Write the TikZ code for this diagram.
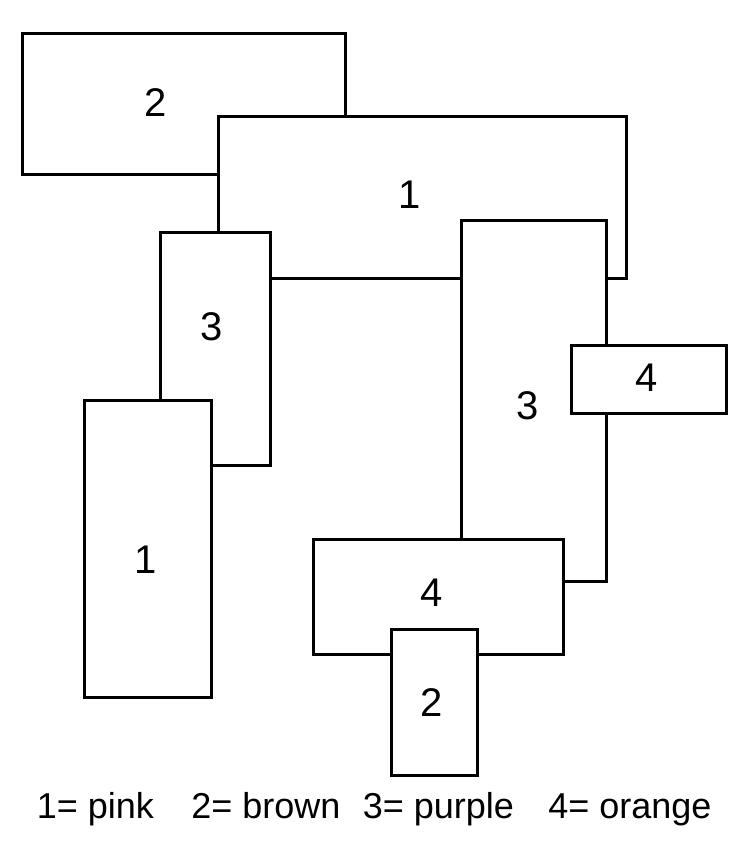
\documentclass[tikz,border=0pt]{standalone}
\usepackage{fontspec}
\setmainfont{Liberation Sans}
\usetikzlibrary{positioning}

\begin{document}
\begin{tikzpicture}[x=1pt,y=-1pt,
  box/.style={draw,fill=white,line width=3pt,inner sep=0pt},
  num/.style={font=\fontsize{40}{42}\selectfont},
  key/.style={font=\fontsize{36}{40}\selectfont,anchor=base}]
\useasboundingbox (0,0) rectangle (733,847);
% boxes, from back to front
\node[box,minimum width=323pt,minimum height=141pt] (twoA) at (184,103.5) {};
\node[box,minimum width=408pt,minimum height=162pt] (oneA) at (422,197) {};
\node[box,minimum width=110pt,minimum height=233pt] (threeA) at (215,348.5) {};
\node[box,minimum width=127pt,minimum height=297pt] (oneB) at (148,549) {};
\node[box,minimum width=145pt,minimum height=361pt] (threeB) at (534,401) {};
\node[box,minimum width=155pt,minimum height=68pt] (fourA) at (648.5,379) {};
\node[box,minimum width=250pt,minimum height=115pt] (fourB) at (438.5,596.5) {};
\node[box,minimum width=86pt,minimum height=146pt] (twoB) at (434.5,702) {};
% numbers
\node[num] at (156,103) {2};
\node[num] at (410,195) {1};
\node[num] at (212,327) {3};
\node[num] at (146,560) {1};
\node[num] at (528,406) {3};
\node[num] at (647,378) {4};
\node[num] at (432,593) {4};
\node[num] at (432,703) {2};
% key
\node[key] (keyone) at (95.5,818) {1= pink};
\node[key] (keytwo) at (266,818) {2= brown};
\node[key] (keythree) at (438.5,818) {3= purple};
\node[key] (keyfour) at (630,818) {4= orange};
\end{tikzpicture}
\end{document}
